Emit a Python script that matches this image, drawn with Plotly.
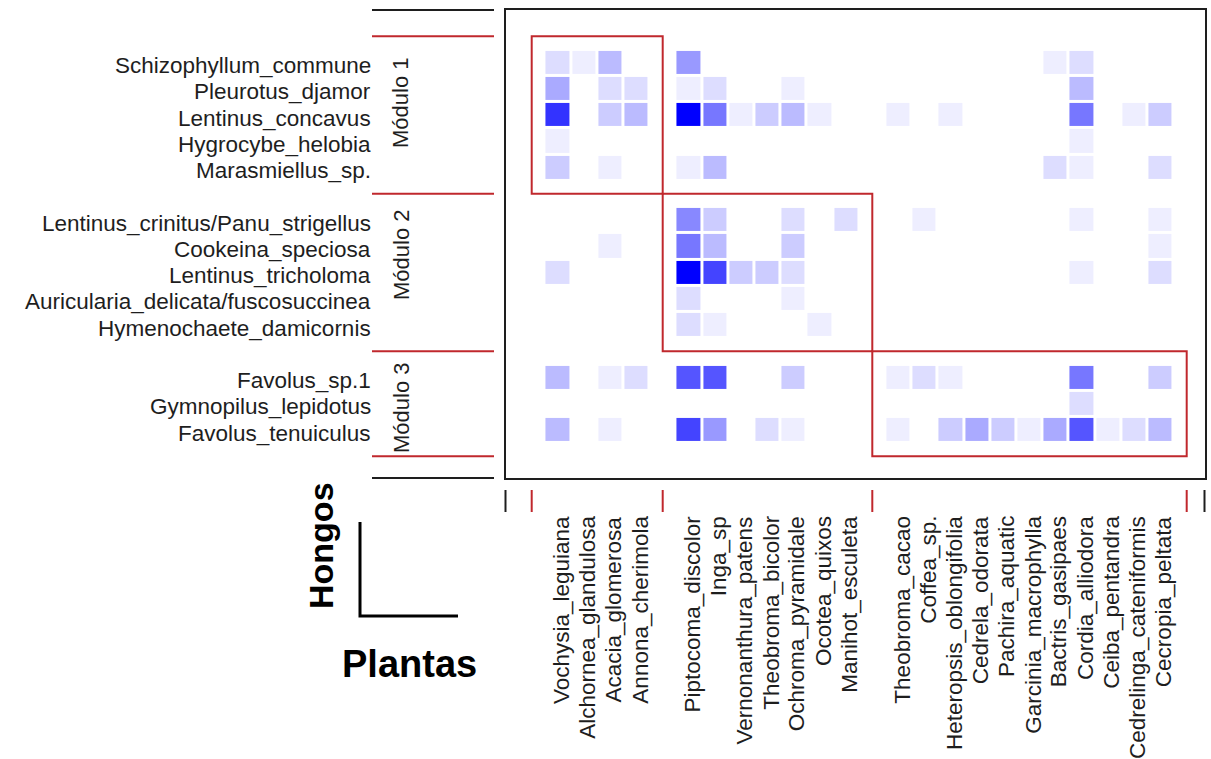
import numpy as np
import plotly.graph_objects as go

# ---- species, grouped by module ----
fungi_m1 = ["Schizophyllum_commune", "Pleurotus_djamor", "Lentinus_concavus",
            "Hygrocybe_helobia", "Marasmiellus_sp."]
fungi_m2 = ["Lentinus_crinitus/Panu_strigellus", "Cookeina_speciosa", "Lentinus_tricholoma",
            "Auricularia_delicata/fuscosuccinea", "Hymenochaete_damicornis"]
fungi_m3 = ["Favolus_sp.1", "Gymnopilus_lepidotus", "Favolus_tenuiculus"]

plants_m1 = ["Vochysia_leguiana", "Alchornea_glandulosa", "Acacia_glomerosa", "Annona_cherimola"]
plants_m2 = ["Piptocoma_discolor", "Inga_sp", "Vernonanthura_patens", "Theobroma_bicolor",
             "Ochroma_pyramidale", "Ocotea_quixos", "Manihot_esculeta"]
plants_m3 = ["Theobroma_cacao", "Coffea_sp.", "Heteropsis_oblongifolia", "Cedrela_odorata",
             "Pachira_aquatic", "Garcinia_macrophylla", "Bactris_gasipaes", "Cordia_alliodora",
             "Ceiba_pentandra", "Cedrelinga_cateniformis", "Cecropia_peltata"]

module_names = ["Módulo 1", "Módulo 2", "Módulo 3"]

# ---- interaction counts, one list per fungus, plants in the order above ----
#                 |  Mod 1   |        Mod 2         |              Mod 3                |
schizophyllum = [2, 1, 4, 0,  6, 0, 0, 0, 0, 0, 0,  0, 0, 0, 0, 0, 0, 1, 2, 0, 0, 0]
pleurotus     = [5, 0, 2, 2,  1, 2, 0, 0, 1, 0, 0,  0, 0, 0, 0, 0, 0, 0, 4, 0, 0, 0]
l_concavus    = [12, 0, 3, 4, 15, 8, 1, 3, 4, 1, 0, 1, 0, 1, 0, 0, 0, 0, 8, 0, 1, 3]
hygrocybe     = [1, 0, 0, 0,  0, 0, 0, 0, 0, 0, 0,  0, 0, 0, 0, 0, 0, 0, 1, 0, 0, 0]
marasmiellus  = [3, 0, 1, 0,  1, 4, 0, 0, 0, 0, 0,  0, 0, 0, 0, 0, 0, 2, 1, 0, 0, 2]
l_crinitus    = [0, 0, 0, 0,  7, 3, 0, 0, 2, 0, 2,  0, 1, 0, 0, 0, 0, 0, 1, 0, 0, 1]
cookeina      = [0, 0, 1, 0,  8, 4, 0, 0, 3, 0, 0,  0, 0, 0, 0, 0, 0, 0, 0, 0, 0, 1]
l_tricholoma  = [2, 0, 0, 0, 15, 11, 3, 3, 2, 0, 0, 0, 0, 0, 0, 0, 0, 0, 1, 0, 0, 2]
auricularia   = [0, 0, 0, 0,  2, 0, 0, 0, 1, 0, 0,  0, 0, 0, 0, 0, 0, 0, 0, 0, 0, 0]
hymenochaete  = [0, 0, 0, 0,  2, 1, 0, 0, 0, 1, 0,  0, 0, 0, 0, 0, 0, 0, 0, 0, 0, 0]
favolus_sp1   = [4, 0, 1, 2, 10, 10, 0, 0, 3, 0, 0, 1, 2, 1, 0, 0, 0, 0, 8, 0, 0, 3]
gymnopilus    = [0, 0, 0, 0,  0, 0, 0, 0, 0, 0, 0,  0, 0, 0, 0, 0, 0, 0, 2, 0, 0, 0]
f_tenuiculus  = [4, 0, 1, 0, 11, 6, 0, 2, 1, 0, 0,  1, 0, 3, 5, 3, 1, 5, 10, 1, 2, 4]

web_rows = [schizophyllum, pleurotus, l_concavus, hygrocybe, marasmiellus,
            l_crinitus, cookeina, l_tricholoma, auricularia, hymenochaete,
            favolus_sp1, gymnopilus, f_tenuiculus]

fungi_modules = [fungi_m1, fungi_m2, fungi_m3]
plant_modules = [plants_m1, plants_m2, plants_m3]


def module_layout(groups):
    """Grid positions: one empty slot at every module boundary."""
    pos, bounds, start = [], [], 1
    for g in groups:
        bounds.append(start)
        pos.extend(range(start + 1, start + 1 + len(g)))
        start += len(g) + 1
    bounds.append(start)
    return pos, bounds


row_pos, row_bounds = module_layout(fungi_modules)
col_pos, col_bounds = module_layout(plant_modules)
fungi = [f for g in fungi_modules for f in g]
plants = [p for g in plant_modules for p in g]

n_rows, n_cols = row_bounds[-1] + 1, col_bounds[-1] + 1
z = np.full((n_rows, n_cols), np.nan)
for i, r in enumerate(row_pos):
    for j, c in enumerate(col_pos):
        v = web_rows[i][j]
        if v > 0:
            z[r, c] = v

W, H = 1211, 759
FONT = "Liberation Sans, Arial, sans-serif"
INK = "#1e1e1e"
RED = "rgb(192,40,45)"

# plotting box in pixels
bx0, bx1, by0, by1 = 505.5, 1204.5, 10.0, 478.0
cell_w, cell_h = 26.2, 26.25

fig = go.Figure(go.Heatmap(
    z=z, x=np.arange(n_cols), y=np.arange(n_rows),
    colorscale=[[0, "rgb(255,255,255)"], [1, "rgb(0,0,255)"]],
    zmin=0, zmax=15, xgap=3, ygap=3, showscale=False, hoverinfo="skip",
))

fig.update_xaxes(domain=[bx0 / W, bx1 / W], range=[0, (bx1 - bx0) / cell_w],
                 showgrid=False, zeroline=False, showticklabels=False, ticks="",
                 showline=True, mirror=True, linecolor=INK, linewidth=2)
fig.update_yaxes(domain=[1 - by1 / H, 1 - by0 / H], range=[(by1 - by0) / cell_h, 0],
                 showgrid=False, zeroline=False, showticklabels=False, ticks="",
                 showline=True, mirror=True, linecolor=INK, linewidth=2)

shapes, annotations = [], []

# module rectangles
for k in range(len(fungi_modules)):
    shapes.append(dict(type="rect", xref="x", yref="y",
                       x0=col_bounds[k], x1=col_bounds[k + 1],
                       y0=row_bounds[k], y1=row_bounds[k + 1],
                       line=dict(color=RED, width=2)))

# boundary marks on the left side
for b in row_bounds:
    shapes.append(dict(type="line", xref="paper", yref="y", x0=372 / W, x1=494 / W,
                       y0=b, y1=b, line=dict(color=RED, width=2)))
for yd in (0, 1):
    shapes.append(dict(type="line", xref="paper", yref="y domain", x0=372 / W, x1=494 / W,
                       y0=yd, y1=yd, line=dict(color=INK, width=2)))

# boundary marks below the box
for b in col_bounds:
    shapes.append(dict(type="line", xref="x", yref="paper", x0=b, x1=b,
                       y0=1 - 490 / H, y1=1 - 512 / H, line=dict(color=RED, width=2)))
for xd in (0, 1):
    shapes.append(dict(type="line", xref="x domain", yref="paper", x0=xd, x1=xd,
                       y0=1 - 490 / H, y1=1 - 512 / H, line=dict(color=INK, width=2)))

# fungus names
for f, r in zip(fungi, row_pos):
    annotations.append(dict(text=f, xref="paper", yref="y", x=373 / W, y=r, yshift=-3,
                            xanchor="right", yanchor="middle", showarrow=False,
                            font=dict(family=FONT, size=22.5, color=INK)))

# plant names
for p, c in zip(plants, col_pos):
    annotations.append(dict(text=p, xref="x", yref="paper", x=c + 0.12, y=1 - 514 / H,
                            xanchor="center", yanchor="top", textangle=-90, showarrow=False,
                            font=dict(family=FONT, size=22.5, color=INK)))

# module names
mod_label_y = [103, 255, 408]
for name, py in zip(module_names, mod_label_y):
    annotations.append(dict(text=name, xref="paper", yref="paper", x=401 / W, y=1 - py / H,
                            xanchor="center", yanchor="middle", textangle=-90, showarrow=False,
                            font=dict(family=FONT, size=22, color=INK)))

# orientation key
shapes.append(dict(type="path", xref="paper", yref="paper",
                   path=f"M {360 / W},{1 - 522 / H} L {360 / W},{1 - 616 / H} L {458 / W},{1 - 616 / H}",
                   line=dict(color="black", width=3)))
annotations.append(dict(text="<b>Hongos</b>", xref="paper", yref="paper", x=321 / W, y=1 - 546 / H,
                        xanchor="center", yanchor="middle", textangle=-90, showarrow=False,
                        font=dict(family=FONT, size=34, color="black")))
annotations.append(dict(text="<b>Plantas</b>", xref="paper", yref="paper", x=409 / W, y=1 - 664 / H,
                        xanchor="center", yanchor="middle", showarrow=False,
                        font=dict(family=FONT, size=38, color="black")))

fig.update_layout(width=W, height=H, margin=dict(l=0, r=0, t=0, b=0),
                  paper_bgcolor="white", plot_bgcolor="white",
                  shapes=shapes, annotations=annotations, showlegend=False)

fig.write_html("out.html")
